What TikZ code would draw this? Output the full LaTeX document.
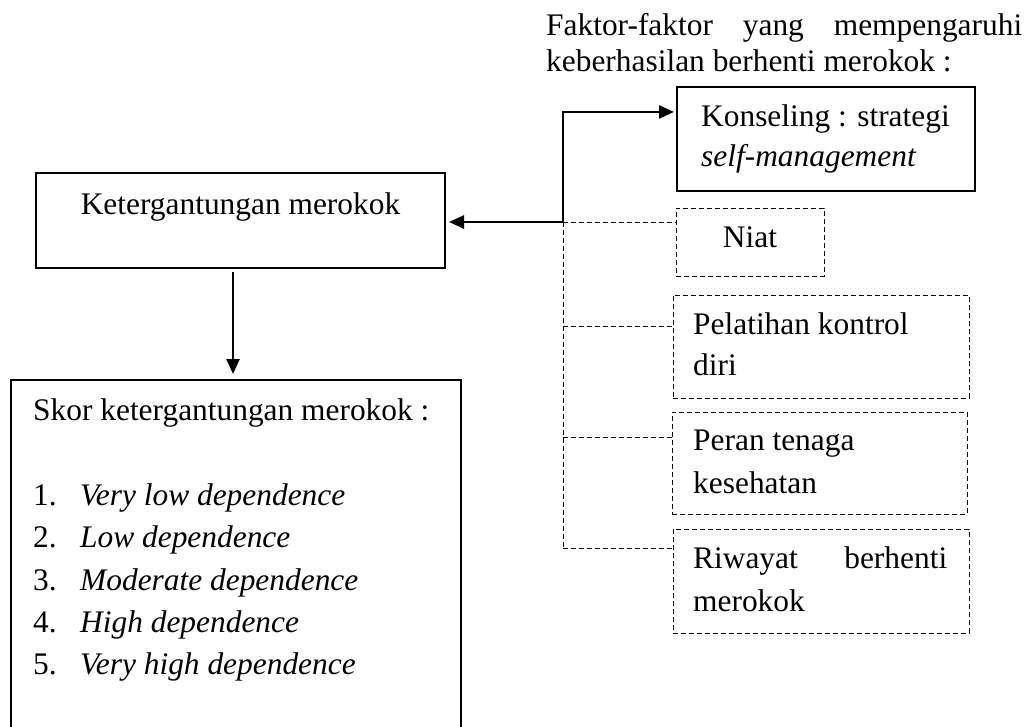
\documentclass[tikz,border=0pt]{standalone}
\usepackage{fontspec}
\setmainfont{Liberation Serif}
\usetikzlibrary{arrows.meta,calc}
\begin{document}
\begin{tikzpicture}[x=1pt,y=-1pt,
  solidbox/.style={draw,line width=2.5pt,inner sep=0pt,outer sep=0pt,rectangle},
  dashbox/.style={draw,line width=1pt,dash pattern=on 5pt off 3pt,inner sep=0pt,outer sep=0pt,rectangle},
  txt/.style={anchor=base west,inner sep=0pt,font=\fontsize{31.4}{40}\selectfont},
  conn/.style={line width=2.5pt,-{Triangle[length=15pt,width=13pt]}},
  dconn/.style={line width=1pt,dash pattern=on 5pt off 3pt}]
\useasboundingbox (0,0) rectangle (1032,726);
\clip (0,0) rectangle (1032,726);
% boxes
\node[solidbox,minimum width=409pt,minimum height=95pt] (ket) at (240.5,220.5) {};
\node[solidbox,minimum width=450pt,minimum height=400pt] (skor) at (236,580) {};
\node[solidbox,minimum width=298pt,minimum height=104pt] (kons) at (826,139) {};
\node[dashbox,minimum width=148pt,minimum height=68pt] (niat) at (750,242) {};
\node[dashbox,minimum width=296pt,minimum height=103pt] (pel) at (821,346.5) {};
\node[dashbox,minimum width=295pt,minimum height=102pt] (per) at (819.5,463) {};
\node[dashbox,minimum width=296pt,minimum height=104pt] (riw) at (821,581) {};
% connector helpers
\coordinate (j) at (563,222);
\coordinate (d1) at (563,326);
\coordinate (d2) at (563,437);
\coordinate (d3) at (563,548);
\coordinate (dx) at (233,0);
\coordinate (ku) at ($(kons.north west)!0.24!(kons.south west)$);
% dashed connectors
\draw[dconn] (j) -- (j -| niat.west);
\draw[dconn] (j) -- (d3);
\draw[dconn] (d1) -- (d1 -| pel.west);
\draw[dconn] (d2) -- (d2 -| per.west);
\draw[dconn] (d3) -- (d3 -| riw.west);
% solid connectors
\draw[conn,shorten >=3pt] (j) |- (ku);
\draw[conn,shorten >=4pt] (j) -- (j -| ket.east);
\draw[conn,shorten <=4pt,shorten >=6pt] (ket.south -| dx) -- (skor.north -| dx);
% texts
\node[txt] (t1) at (546,35) {\makebox[476pt][s]{Faktor-faktor\hfill yang\hfill mempengaruhi}};
\node[txt] (t2) at (546,71) {keberhasilan berhenti merokok :};
\node[txt,anchor=base] (ketT) at (240.5,214) {Ketergantungan merokok};
\node[txt] (k1) at (701,126) {Konseling : strategi};
\node[txt] (k2) at (701,166) {\itshape self-management};
\node[txt,anchor=base] (niatT) at (750,247) {Niat};
\node[txt] (p1) at (693,334) {Pelatihan kontrol};
\node[txt] (p2) at (693,375) {diri};
\node[txt] (r1) at (693,450) {Peran tenaga};
\node[txt] (r2) at (693,493) {kesehatan};
\node[txt] (w1) at (693,568) {\makebox[254pt][s]{Riwayat\hfill berhenti}};
\node[txt] (w2) at (693,611) {merokok};
\node[txt] (s0) at (33,420) {Skor ketergantungan merokok :};
\node[txt] (n1) at (33,505) {1.};
\node[txt] (i1) at (80,505) {\itshape Very low dependence};
\node[txt] (n2) at (33,547) {2.};
\node[txt] (i2) at (80,547) {\itshape Low dependence};
\node[txt] (n3) at (33,590) {3.};
\node[txt] (i3) at (80,590) {\itshape Moderate dependence};
\node[txt] (n4) at (33,632) {4.};
\node[txt] (i4) at (80,632) {\itshape High dependence};
\node[txt] (n5) at (33,674) {5.};
\node[txt] (i5) at (80,674) {\itshape Very high dependence};
\end{tikzpicture}
\end{document}
